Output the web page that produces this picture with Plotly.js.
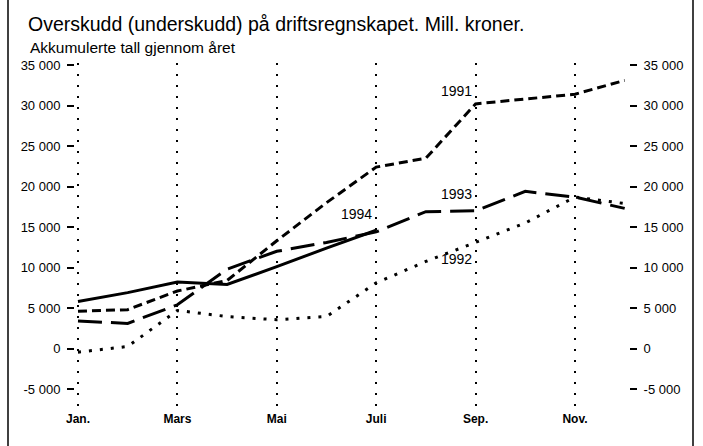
<!DOCTYPE html>
<html>
<head>
<meta charset="utf-8">
<script src="https://cdn.plot.ly/plotly-3.0.1.min.js"></script>
<style>html,body{margin:0;padding:0;background:#fff;}#chart{width:703px;height:446px;}</style>
</head>
<body>
<div id="chart"></div>
<script>
// ---- data ----
var months = [1, 2, 3, 4, 5, 6, 7, 8, 9, 10, 11, 12];
var monthTickVals = [1, 3, 5, 7, 9, 11];
var monthTickText = ["Jan.", "Mars", "Mai", "Juli", "Sep.", "Nov."];
var yTickVals = [-5000, 0, 5000, 10000, 15000, 20000, 25000, 30000, 35000];
var yTickText = ["-5 000", "0", "5 000", "10 000", "15 000", "20 000", "25 000", "30 000", "35 000"];

var v1991 = [4600, 4800, 7100, 8400, 13300, 18000, 22400, 23500, 30200, 30800, 31400, 33100];
var v1992 = [-450, 250, 4700, 3950, 3550, 3950, 8100, 10750, 13100, 15500, 18700, 17900];
var v1993 = [3400, 3100, 5400, 9800, 12000, 13100, 14400, 16900, 17000, 19400, 18700, 17300];
var v1994 = [5800, 6900, 8200, 7900, 10100, 12400, 14600];

var seriesNames = ["1991", "1992", "1993", "1994"];

var FONT = "Liberation Sans, Arial, Helvetica, sans-serif";
var yRange = [-7590, 35250];
var xRange = [0.94, 12.087];

var traces = [
  {x: months, y: v1991, name: seriesNames[0], mode: "lines",
   line: {color: "#000", width: 3, dash: "9px,5px"}},
  {x: months, y: v1992, name: seriesNames[1], mode: "lines",
   line: {color: "#000", width: 3, dash: "3px,8px"}},
  {x: months, y: v1993, name: seriesNames[2], mode: "lines",
   line: {color: "#000", width: 3, dash: "24px,9px"}},
  {x: months.slice(0, v1994.length), y: v1994, name: seriesNames[3], mode: "lines",
   yaxis: "y2", line: {color: "#000", width: 3}}
];

function lab(text, xm, yv, ys) {
  return {text: text, x: xm, y: yv, xref: "x", yref: "y", showarrow: false,
          xanchor: "right", yanchor: "middle", xshift: -2, yshift: ys,
          font: {family: FONT, size: 14, color: "#000"}};
}

var yAxisCommon = {
  range: yRange, tickvals: yTickVals, ticktext: yTickText,
  ticks: "outside", ticklen: 7, tickwidth: 2, tickcolor: "#000",
  ticklabelstandoff: 4,
  showgrid: false, zeroline: false, showline: false,
  tickfont: {family: FONT, size: 13, color: "#000"}, fixedrange: true
};

var layout = {
  width: 703, height: 446,
  margin: {l: 75, r: 74, t: 63, b: 36},
  paper_bgcolor: "#fff", plot_bgcolor: "#fff",
  showlegend: false,
  title: {text: "Overskudd (underskudd) på driftsregnskapet. Mill. kroner.",
          x: 28 / 703, xanchor: "left", xref: "container",
          y: 1 - 24 / 446, yanchor: "middle", yref: "container",
          font: {family: FONT, size: 19.5, color: "#000"}},
  xaxis: {range: xRange, tickvals: monthTickVals, ticktext: monthTickText,
          showgrid: true, gridcolor: "#000", gridwidth: 2, griddash: "2px,9px",
          zeroline: false, showline: false, ticks: "",
          tickfont: {family: FONT, size: 12, color: "#000", weight: "bold"},
          fixedrange: true},
  yaxis: Object.assign({}, yAxisCommon, {side: "left"}),
  yaxis2: Object.assign({}, yAxisCommon, {side: "right", overlaying: "y", anchor: "x"}),
  annotations: [
    {text: "Akkumulerte tall gjennom året", xref: "paper", yref: "paper",
     x: (28 - 75) / 554, y: (410 - 47) / 347, xanchor: "left", yanchor: "middle",
     showarrow: false, font: {family: FONT, size: 15.5, color: "#000"}},
    lab(seriesNames[0], 9, v1991[8], 13),
    lab(seriesNames[2], 9, v1993[8], 17),
    lab(seriesNames[1], 9, v1992[8], -17),
    lab(seriesNames[3], 7, v1994[6], 16)
  ],
  shapes: [
    {type: "line", xref: "paper", yref: "paper", x0: (8 - 75) / 554, x1: (8 - 75) / 554,
     y0: (410 - 446) / 347, y1: 410 / 347, line: {color: "#000", width: 1.5}},
    {type: "line", xref: "paper", yref: "paper", x0: (693 - 75) / 554, x1: (693 - 75) / 554,
     y0: (410 - 446) / 347, y1: 410 / 347, line: {color: "#000", width: 1.5}}
  ]
};

Plotly.newPlot("chart", traces, layout, {staticPlot: true, displayModeBar: false});
</script>
</body>
</html>
